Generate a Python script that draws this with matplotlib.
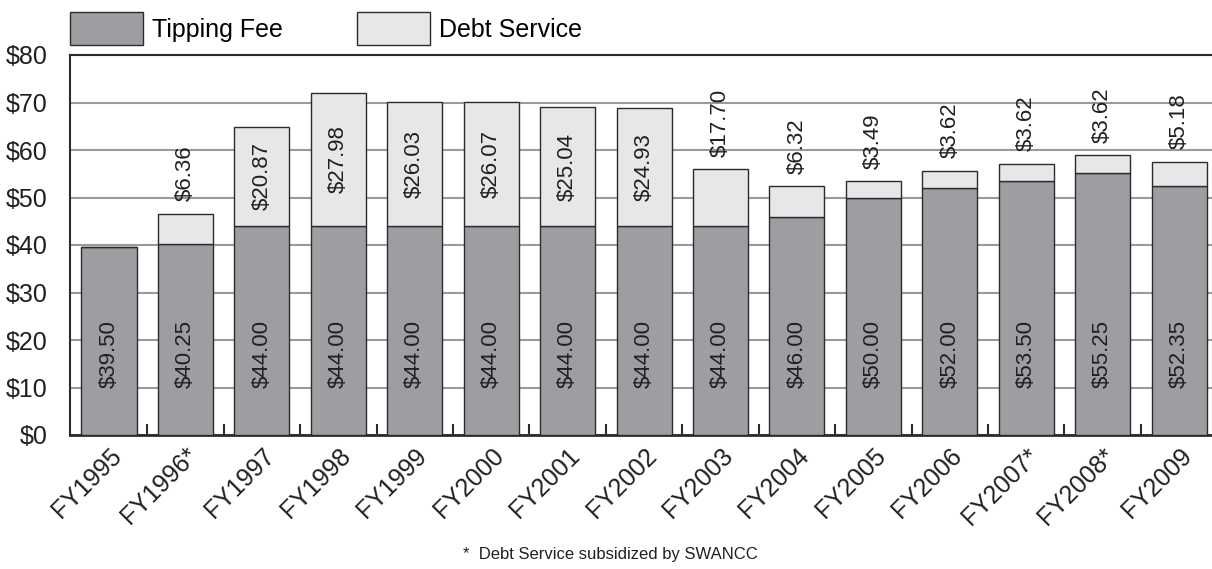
import numpy as np
import matplotlib.pyplot as plt
from matplotlib.patches import Patch
import matplotlib.transforms as mtransforms

plt.rcParams['font.family'] = ['Liberation Sans', 'DejaVu Sans']

years = ["FY1995", "FY1996*", "FY1997", "FY1998", "FY1999", "FY2000", "FY2001",
         "FY2002", "FY2003", "FY2004", "FY2005", "FY2006", "FY2007*", "FY2008*", "FY2009"]
tipping_fee = [39.50, 40.25, 44.00, 44.00, 44.00, 44.00, 44.00, 44.00,
               44.00, 46.00, 50.00, 52.00, 53.50, 55.25, 52.35]
# debt service segment heights as drawn (FY2003 bar is drawn shorter than its label)
debt_service = [0, 6.36, 20.87, 27.98, 26.03, 26.07, 25.04, 24.93,
                12.00, 6.32, 3.49, 3.62, 3.62, 3.62, 5.18]
debt_labels = ["", "$6.36", "$20.87", "$27.98", "$26.03", "$26.07", "$25.04", "$24.93",
               "$17.70", "$6.32", "$3.49", "$3.62", "$3.62", "$3.62", "$5.18"]
yticks = [0, 10, 20, 30, 40, 50, 60, 70, 80]

tip_color = "#9d9ea2"
debt_color = "#e6e7e8"
edge = "#2b2b2b"
txt = "#231f20"

fig = plt.figure(figsize=(12.12, 5.69), dpi=100)
ax = fig.add_axes([70 / 1212, 1 - 435 / 569, 1 - 70 / 1212, 380 / 569])

x = np.arange(len(years))
w = 0.72
ax.bar(x, tipping_fee, w, color=tip_color, edgecolor=edge, linewidth=1, zorder=3)
ax.bar(x, debt_service, w, bottom=tipping_fee, color=debt_color, edgecolor=edge,
       linewidth=1, zorder=3)

for i in range(len(years)):
    ax.text(x[i], 17, "$%.2f" % tipping_fee[i], rotation=90, ha="center", va="center",
            fontsize=16, color=txt, zorder=4)
    if debt_labels[i]:
        top = tipping_fee[i] + debt_service[i]
        if debt_service[i] > 15:
            ax.text(x[i], tipping_fee[i] + debt_service[i] / 2, debt_labels[i], rotation=90,
                    ha="center", va="center", fontsize=16, color=txt, zorder=4)
        else:
            ax.text(x[i], top + 2.6, debt_labels[i], rotation=90, ha="center", va="bottom",
                    fontsize=16, color=txt, zorder=4)

ax.set_xlim(-0.51, 14.43)
ax.set_ylim(0, 80)
ax.set_yticks(yticks)
ax.set_yticklabels(["$%d" % v for v in yticks], fontsize=18, color=txt)
ax.yaxis.grid(True, color="#9a9a9a", linewidth=1.5, zorder=0)
ax.set_axisbelow(True)
ax.tick_params(axis="y", length=0, pad=16)

ax.set_xticks(x)
ax.set_xticklabels(years, fontsize=18, rotation=45, ha="right", va="top",
                   rotation_mode="anchor", color=txt)
offset = mtransforms.ScaledTranslation(16 / 100, -10 / 100, fig.dpi_scale_trans)
for lab in ax.get_xticklabels():
    lab.set_transform(lab.get_transform() + offset)
ax.tick_params(axis="x", length=0, pad=6)
ax.set_xticks(x[:-1] + 0.5, minor=True)
ax.tick_params(axis="x", which="minor", direction="in", length=8, width=1.5, color=edge)

for s in ["left", "top"]:
    ax.spines[s].set_color(edge)
    ax.spines[s].set_linewidth(1.5)
ax.spines["bottom"].set_color(edge)
ax.spines["bottom"].set_linewidth(2)
ax.spines["right"].set_visible(False)

handles = [Patch(facecolor=tip_color, edgecolor=edge, linewidth=1),
           Patch(facecolor=debt_color, edgecolor=edge, linewidth=1)]
fig.legend(handles, ["Tipping Fee", "Debt Service"], loc="upper left",
           bbox_to_anchor=(70 / 1212, 1 - 12 / 569), ncol=2, frameon=False,
           fontsize=18, handlelength=2.9, handleheight=1.65, handletextpad=0.36,
           columnspacing=3.0, borderaxespad=0, borderpad=0)

fig.text(463 / 1212, 1 - 555 / 569, "*  Debt Service subsidized by SWANCC",
         fontsize=12, color=txt, ha="left", va="center")

fig.savefig("out.png", dpi=100)
